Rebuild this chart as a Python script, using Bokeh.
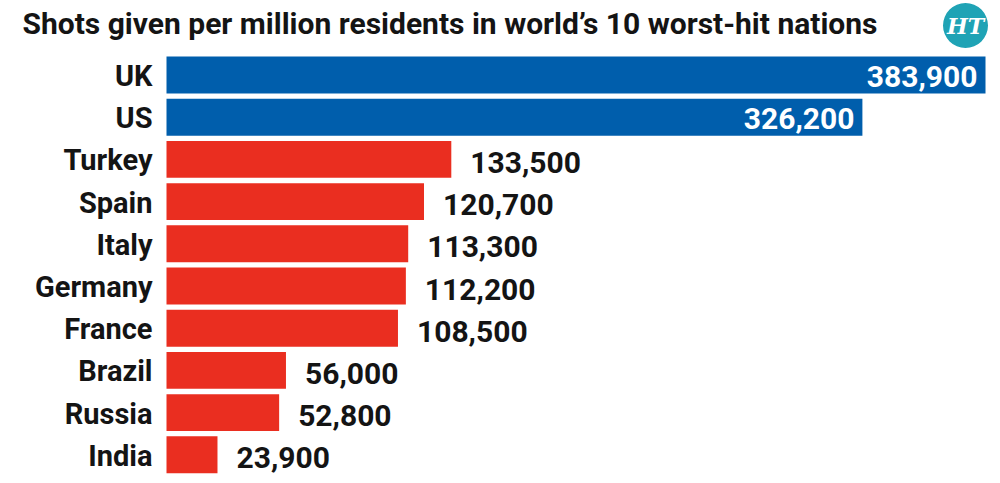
from bokeh.plotting import figure
from bokeh.models import Label, ColumnDataSource, Range1d
from bokeh.core.properties import value
from bokeh.embed import file_html
from bokeh.resources import INLINE

countries = ["UK", "US", "Turkey", "Spain", "Italy", "Germany", "France", "Brazil", "Russia", "India"]
shots = [383900, 326200, 133500, 120700, 113300, 112200, 108500, 56000, 52800, 23900]
labels = ["383,900", "326,200", "133,500", "120,700", "113,300", "112,200", "108,500", "56,000", "52,800", "23,900"]
title_text = "Shots given per million residents in world\u2019s 10 worst-hit nations"

BLUE = "#005EAC"
RED = "#EA2E20"
INK = "#141414"
TEAL = "#1FA3B5"
FONT = "Roboto"

W, H = 1000, 483
# pixel layout of the chart area
x0_px, xscale = 166.0, 819.0 / 383900.0
y0_px, pitch = 74.5, 42.2

rank = list(range(len(countries)))
colors = [BLUE if i < 2 else RED for i in rank]
zeros = [0] * len(countries)

src = ColumnDataSource(dict(c=countries, y=rank, v=shots, z=zeros, col=colors))
inside = [i < 2 for i in rank]
in_src = ColumnDataSource(dict(y=[r for r, f in zip(rank, inside) if f],
                               v=[v for v, f in zip(shots, inside) if f],
                               t=[t for t, f in zip(labels, inside) if f]))
out_src = ColumnDataSource(dict(y=[r for r, f in zip(rank, inside) if not f],
                                v=[v for v, f in zip(shots, inside) if not f],
                                t=[t for t, f in zip(labels, inside) if not f]))

x_range = Range1d(-x0_px / xscale, (W - x0_px) / xscale)
y_range = Range1d((H - y0_px) / pitch, -y0_px / pitch)  # inverted: first category on top

p = figure(width=W, height=H, output_backend="svg", toolbar_location=None,
           x_range=x_range, y_range=y_range,
           min_border=0, min_border_left=0, min_border_right=0, min_border_top=0, min_border_bottom=0)
p.xaxis.visible = False
p.yaxis.visible = False
p.grid.visible = False
p.outline_line_color = None
p.background_fill_color = "white"

p.hbar(y="y", right="v", left="z", height=0.875, fill_color="col", line_color=None, source=src)

# country names
p.text(x="z", y="y", text="c", source=src, x_offset=-14, y_offset=1, text_align="right",
       text_baseline="middle", text_color=INK, text_font=value(FONT), text_font_style="bold",
       text_font_size="29px")
# values
p.text(x="v", y="y", text="t", source=in_src, x_offset=-8, y_offset=1, text_align="right",
       text_baseline="middle", text_color="white", text_font=value(FONT), text_font_style="bold",
       text_font_size="30px")
p.text(x="v", y="y", text="t", source=out_src, x_offset=19, y_offset=3, text_align="left",
       text_baseline="middle", text_color=INK, text_font=value(FONT), text_font_style="bold",
       text_font_size="30px")

# title
p.add_layout(Label(x=22, y=H - 23, x_units="screen", y_units="screen", text=title_text,
                   text_font=FONT, text_font_style="bold", text_font_size="30px",
                   text_color=INK, text_baseline="middle", text_align="left"))

# HT logo (decoration): teal disc with white letters
logo_x = (965 - x0_px) / xscale
logo_y = (25 - y0_px) / pitch
p.scatter(x=[logo_x], y=[logo_y], size=45, marker="circle", fill_color=TEAL, line_color=None)
p.text(x=[logo_x], y=[logo_y], text=["HT"], text_align="center", text_baseline="middle",
       text_color="white", text_font=value("DejaVu Serif"), text_font_style="bold italic",
       text_font_size="22px")

open("out.html", "w").write(file_html(p, INLINE))
